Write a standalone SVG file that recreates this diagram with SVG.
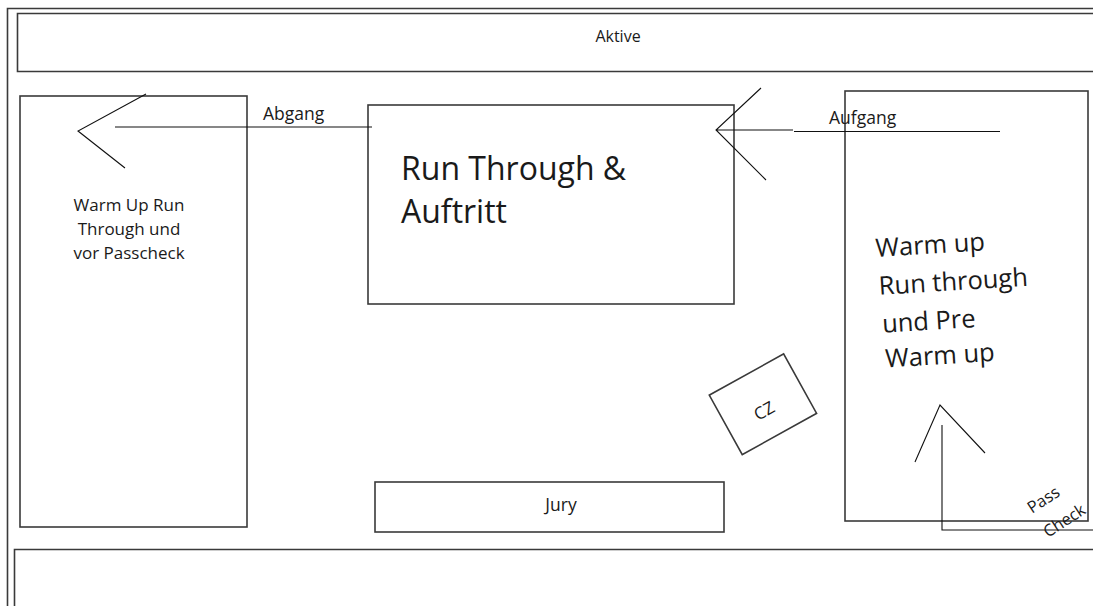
<svg xmlns="http://www.w3.org/2000/svg" width="1093" height="606" viewBox="0 0 1093 606">
<style>
.box{fill:none;stroke:#3a3a3a;stroke-width:1.6}
.ln{fill:none;stroke:#111;stroke-width:1.1}
text{font-family:"Open Sans","Noto Sans","Liberation Sans",sans-serif;fill:#1a1a1a}
.s{font-size:17px}
</style>
<rect width="1093" height="606" fill="#fff"/>
<g id="outer"><path class="box" d="M1093 8.5H7.5V606"/></g>
<g id="aktive"><path class="box" d="M1093 13.5H17.5V71.5H1093"/><text font-size="16" x="618" y="42" text-anchor="middle">Aktive</text></g>
<g id="warmup-left"><rect class="box" x="20" y="96" width="227" height="431"/>
<text class="s" text-anchor="middle"><tspan x="129" y="211">Warm Up Run</tspan><tspan x="129" y="235">Through und</tspan><tspan x="129" y="259">vor Passcheck</tspan></text></g>
<g id="runthrough"><rect class="box" x="368" y="105" width="366" height="199"/>
<text font-size="32" x="401" y="180">Run Through &amp;</text><text font-size="32" x="401" y="223">Auftritt</text></g>
<g id="warmup-right"><rect class="box" x="845" y="91" width="243" height="430"/>
<text font-size="25.5" transform="rotate(-3.5 876 257)"><tspan x="876" y="257">Warm up</tspan><tspan x="877" y="295">Run through</tspan><tspan x="878" y="333">und Pre</tspan><tspan x="879" y="368">Warm up</tspan></text></g>
<g id="cz"><rect class="box" x="-42" y="-34" width="85" height="68" transform="translate(762.5 404.5) rotate(-29)"/>
<text font-size="17" transform="translate(767 416) rotate(-29)" text-anchor="middle">CZ</text></g>
<g id="jury"><rect class="box" x="375" y="482" width="349" height="50"/><text font-size="17.5" x="561" y="511" text-anchor="middle">Jury</text></g>
<g id="bottom"><path class="box" d="M1093 549.5H14.5V606"/></g>
<g id="connectors">
<path class="ln" d="M115 127H372M146 94L78 131L125 168"/>
<path class="ln" d="M716 130H793M794 131.5H1000M761 88L716 130L766 180"/>
<path class="ln" d="M942 425V530H1093M915 462L940 405L985 453"/>
</g>
<text font-size="16.5" transform="translate(1032 514) rotate(-33)">Pass</text>
<text font-size="16.5" transform="translate(1048 538) rotate(-33)">Check</text>
<text font-size="17.5" x="263" y="120">Abgang</text>
<text font-size="17.5" x="829" y="124">Aufgang</text>
</svg>
